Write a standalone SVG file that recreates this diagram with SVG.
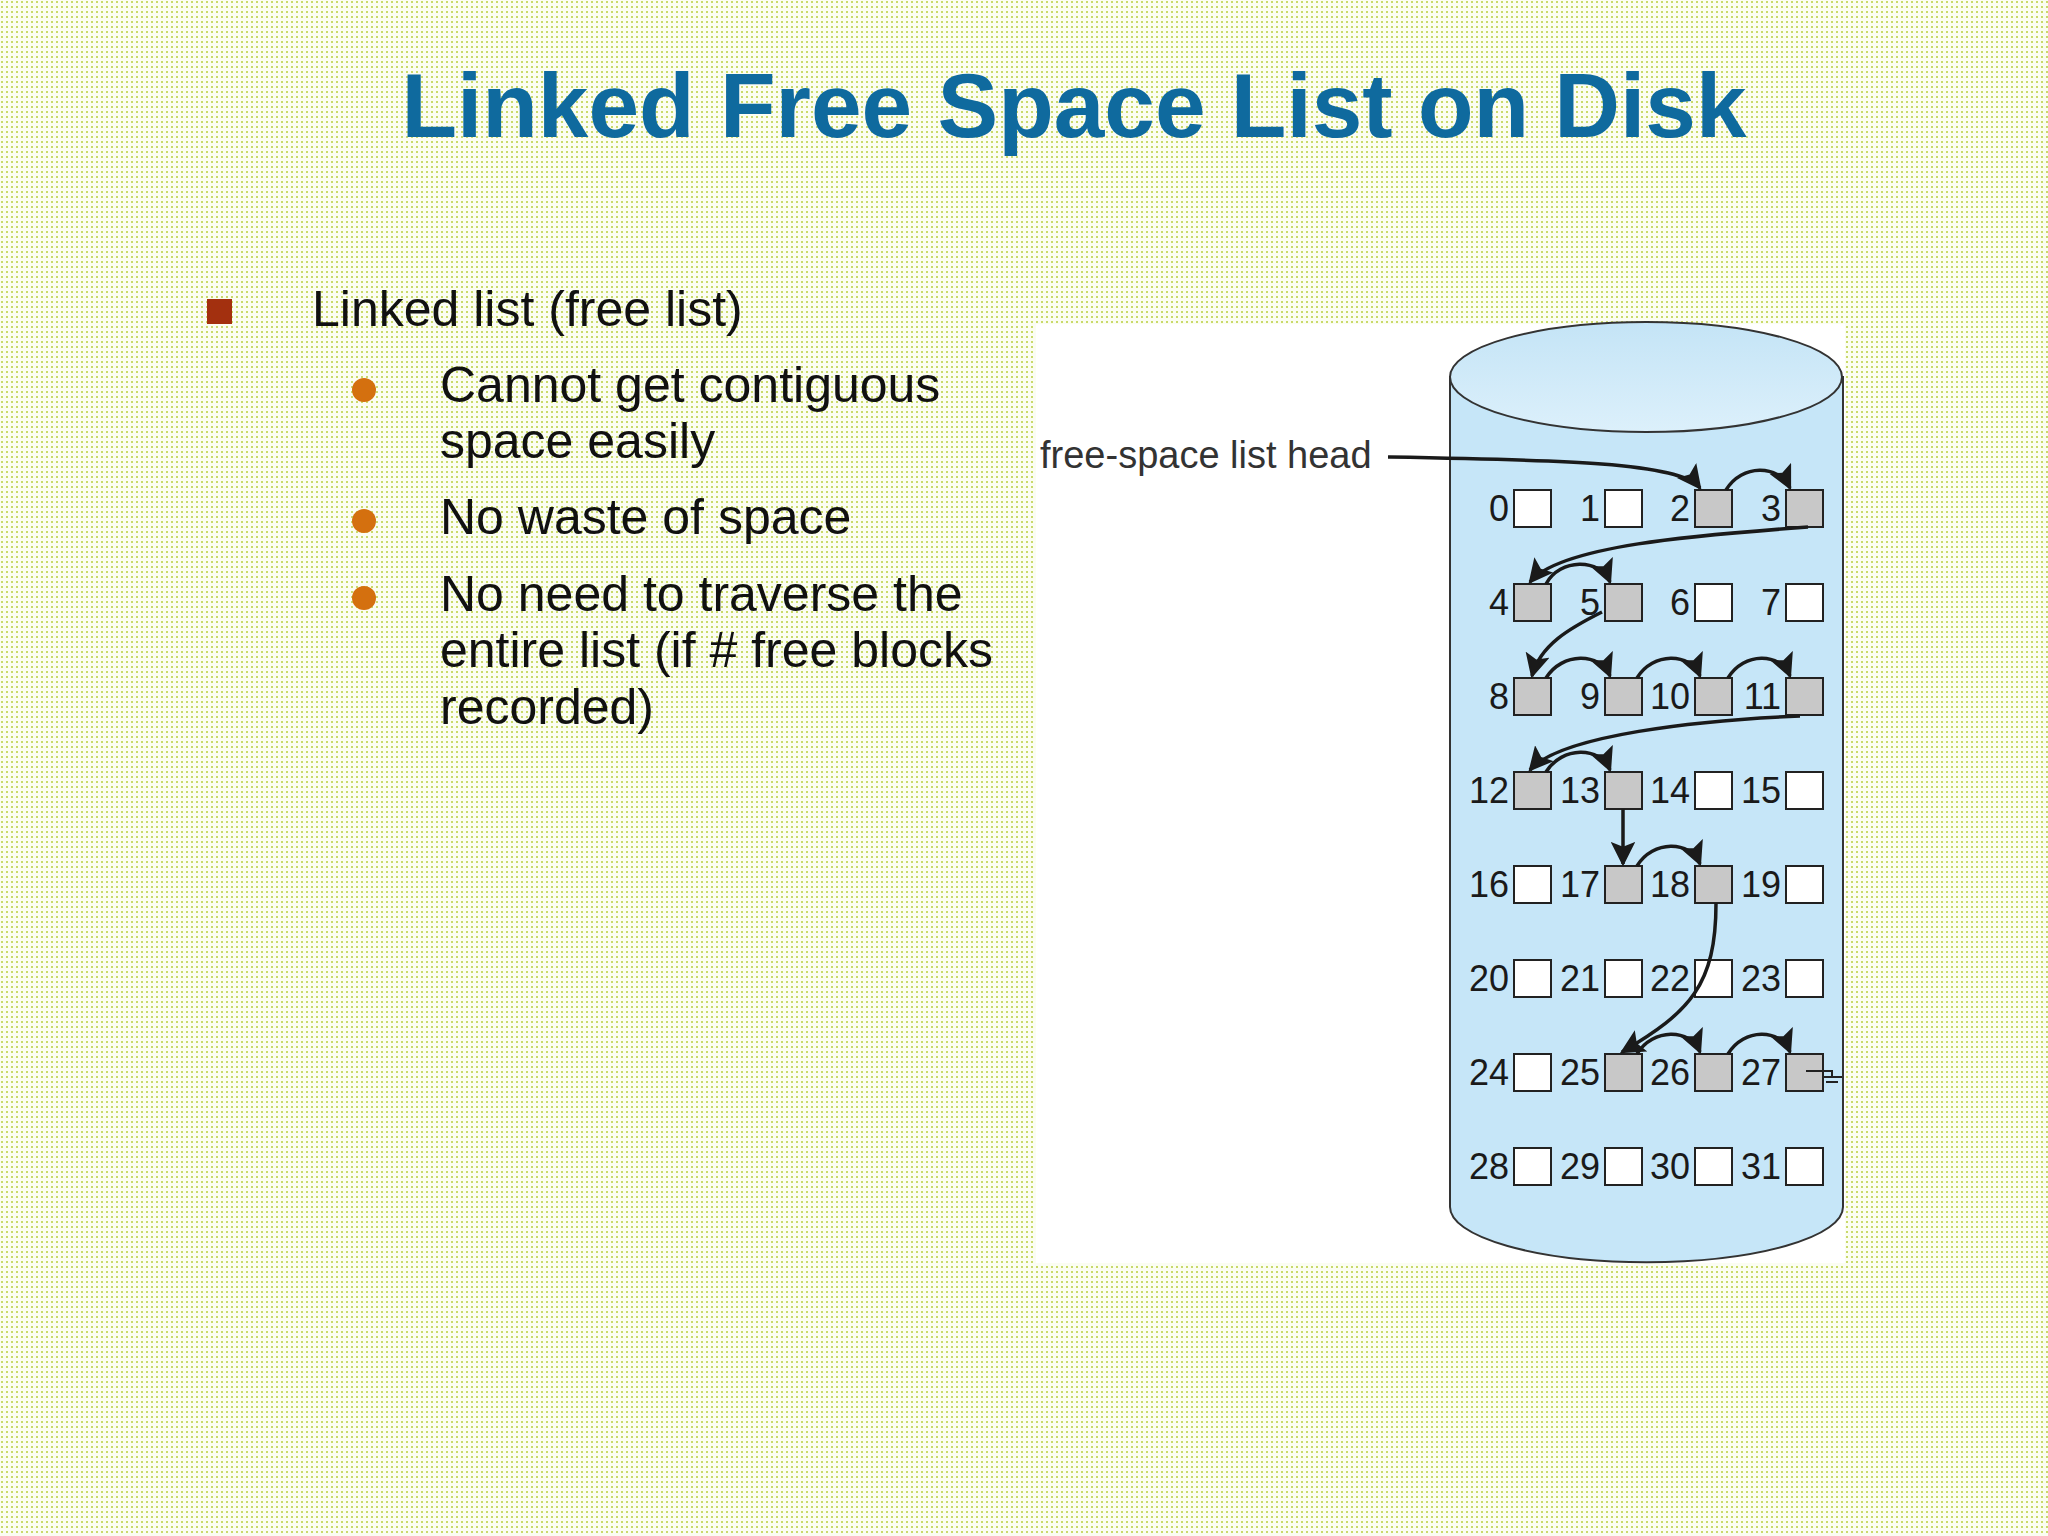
<svg xmlns="http://www.w3.org/2000/svg" width="2048" height="1536" viewBox="0 0 2048 1536">
<defs>
<pattern id="dots" width="5" height="5" patternUnits="userSpaceOnUse"><rect width="5" height="5" fill="#fbfdf2"/><rect x="1" y="1" width="2" height="2" fill="#c9da6a"/></pattern>
<marker id="ah" viewBox="0 0 10 10" refX="9" refY="5" markerWidth="7" markerHeight="7" orient="auto-start-reverse" markerUnits="strokeWidth"><path d="M0,0 L10,5 L0,10 L2,5 Z" fill="#1a1a1a"/></marker>
<linearGradient id="topg" x1="0" y1="0" x2="0" y2="1"><stop offset="0" stop-color="#c4e4f6"/><stop offset="1" stop-color="#dcf0fb"/></linearGradient>
</defs>
<style>
.t{font-family:"Liberation Sans",Arial,sans-serif;fill:#111}
.lbl{font-family:"Liberation Sans",Arial,sans-serif;font-size:36px;fill:#1a1a1a;text-anchor:end}
.bf{fill:#fff;stroke:#222;stroke-width:2}
.bu{fill:#c8c8c8;stroke:#222;stroke-width:2}
.c{fill:none;stroke:#1a1a1a;stroke-width:3.5;marker-end:url(#ah)}
</style>
<rect width="2048" height="1536" fill="url(#dots)"/>
<text x="1074" y="137" text-anchor="middle" font-family="Liberation Sans,Arial,sans-serif" font-weight="bold" font-size="91" fill="#0f6a9e">Linked Free Space List on Disk</text>
<g id="bullets">
<rect x="207" y="299" width="25" height="25" fill="#a3300f"/>
<text class="t" x="312" y="326" font-size="50">Linked list (free list)</text>
<circle cx="364" cy="390" r="12" fill="#d4700f"/>
<circle cx="364" cy="521" r="12" fill="#d4700f"/>
<circle cx="364" cy="598" r="12" fill="#d4700f"/>
<text class="t" x="440" y="402" font-size="50">Cannot get contiguous</text>
<text class="t" x="440" y="458" font-size="50">space easily</text>
<text class="t" x="440" y="534" font-size="50">No waste of space</text>
<text class="t" x="440" y="611" font-size="50">No need to traverse the</text>
<text class="t" x="440" y="667" font-size="50">entire list (if # free blocks</text>
<text class="t" x="440" y="724" font-size="50">recorded)</text>
</g>
<rect x="1036" y="324" width="809" height="939" fill="#ffffff"/>
<g id="disk">
<path d="M1450,377 L1450,1207 A196,55 0 0 0 1843,1207 L1843,377 Z" fill="#c6e6f8" stroke="#333" stroke-width="2"/>
<ellipse cx="1646" cy="377" rx="196" ry="55" fill="url(#topg)" stroke="#333" stroke-width="2"/>
</g>
<g id="blocks">
<text class="lbl" x="1509" y="521">0</text><rect class="bf" x="1514" y="490" width="37" height="37"/>
<text class="lbl" x="1600" y="521">1</text><rect class="bf" x="1605" y="490" width="37" height="37"/>
<text class="lbl" x="1690" y="521">2</text><rect class="bu" x="1695" y="490" width="37" height="37"/>
<text class="lbl" x="1781" y="521">3</text><rect class="bu" x="1786" y="490" width="37" height="37"/>
<text class="lbl" x="1509" y="615">4</text><rect class="bu" x="1514" y="584" width="37" height="37"/>
<text class="lbl" x="1600" y="615">5</text><rect class="bu" x="1605" y="584" width="37" height="37"/>
<text class="lbl" x="1690" y="615">6</text><rect class="bf" x="1695" y="584" width="37" height="37"/>
<text class="lbl" x="1781" y="615">7</text><rect class="bf" x="1786" y="584" width="37" height="37"/>
<text class="lbl" x="1509" y="709">8</text><rect class="bu" x="1514" y="678" width="37" height="37"/>
<text class="lbl" x="1600" y="709">9</text><rect class="bu" x="1605" y="678" width="37" height="37"/>
<text class="lbl" x="1690" y="709">10</text><rect class="bu" x="1695" y="678" width="37" height="37"/>
<text class="lbl" x="1781" y="709">11</text><rect class="bu" x="1786" y="678" width="37" height="37"/>
<text class="lbl" x="1509" y="803">12</text><rect class="bu" x="1514" y="772" width="37" height="37"/>
<text class="lbl" x="1600" y="803">13</text><rect class="bu" x="1605" y="772" width="37" height="37"/>
<text class="lbl" x="1690" y="803">14</text><rect class="bf" x="1695" y="772" width="37" height="37"/>
<text class="lbl" x="1781" y="803">15</text><rect class="bf" x="1786" y="772" width="37" height="37"/>
<text class="lbl" x="1509" y="897">16</text><rect class="bf" x="1514" y="866" width="37" height="37"/>
<text class="lbl" x="1600" y="897">17</text><rect class="bu" x="1605" y="866" width="37" height="37"/>
<text class="lbl" x="1690" y="897">18</text><rect class="bu" x="1695" y="866" width="37" height="37"/>
<text class="lbl" x="1781" y="897">19</text><rect class="bf" x="1786" y="866" width="37" height="37"/>
<text class="lbl" x="1509" y="991">20</text><rect class="bf" x="1514" y="960" width="37" height="37"/>
<text class="lbl" x="1600" y="991">21</text><rect class="bf" x="1605" y="960" width="37" height="37"/>
<text class="lbl" x="1690" y="991">22</text><rect class="bf" x="1695" y="960" width="37" height="37"/>
<text class="lbl" x="1781" y="991">23</text><rect class="bf" x="1786" y="960" width="37" height="37"/>
<text class="lbl" x="1509" y="1085">24</text><rect class="bf" x="1514" y="1054" width="37" height="37"/>
<text class="lbl" x="1600" y="1085">25</text><rect class="bu" x="1605" y="1054" width="37" height="37"/>
<text class="lbl" x="1690" y="1085">26</text><rect class="bu" x="1695" y="1054" width="37" height="37"/>
<text class="lbl" x="1781" y="1085">27</text><rect class="bu" x="1786" y="1054" width="37" height="37"/>
<text class="lbl" x="1509" y="1179">28</text><rect class="bf" x="1514" y="1148" width="37" height="37"/>
<text class="lbl" x="1600" y="1179">29</text><rect class="bf" x="1605" y="1148" width="37" height="37"/>
<text class="lbl" x="1690" y="1179">30</text><rect class="bf" x="1695" y="1148" width="37" height="37"/>
<text class="lbl" x="1781" y="1179">31</text><rect class="bf" x="1786" y="1148" width="37" height="37"/>
</g>
<text x="1040" y="468" font-family="Liberation Sans,Arial,sans-serif" font-size="38" fill="#333">free-space list head</text>
<g id="connectors">
<path class="c" d="M1388,457 C1560,460 1680,462 1700,488"/>
<path class="c" d="M1726,490 C1742,464 1778,464 1790,488"/>
<path class="c" d="M1808,527 C1700,535 1560,545 1530,582"/>
<path class="c" d="M1546,584 C1560,558 1600,558 1610,582"/>
<path class="c" d="M1602,612 C1570,628 1540,645 1532,676"/>
<path class="c" d="M1546,678 C1562,652 1600,652 1610,676"/>
<path class="c" d="M1637,678 C1653,652 1690,652 1700,676"/>
<path class="c" d="M1728,678 C1744,652 1780,652 1790,676"/>
<path class="c" d="M1800,716 C1700,720 1560,735 1530,770"/>
<path class="c" d="M1546,772 C1562,746 1600,746 1610,770"/>
<path class="c" d="M1623,809 L1623,864"/>
<path class="c" d="M1637,866 C1653,840 1690,840 1700,864"/>
<path class="c" d="M1716,903 C1716,985 1690,1012 1622,1052"/>
<path class="c" d="M1637,1054 C1653,1028 1690,1028 1700,1052"/>
<path class="c" d="M1728,1054 C1744,1028 1780,1028 1790,1052"/>
<path d="M1806,1071 L1832,1071 L1832,1077 M1822,1077 L1842,1077 M1826,1082 L1838,1082" stroke="#222" stroke-width="2" fill="none"/>
</g>
</svg>
